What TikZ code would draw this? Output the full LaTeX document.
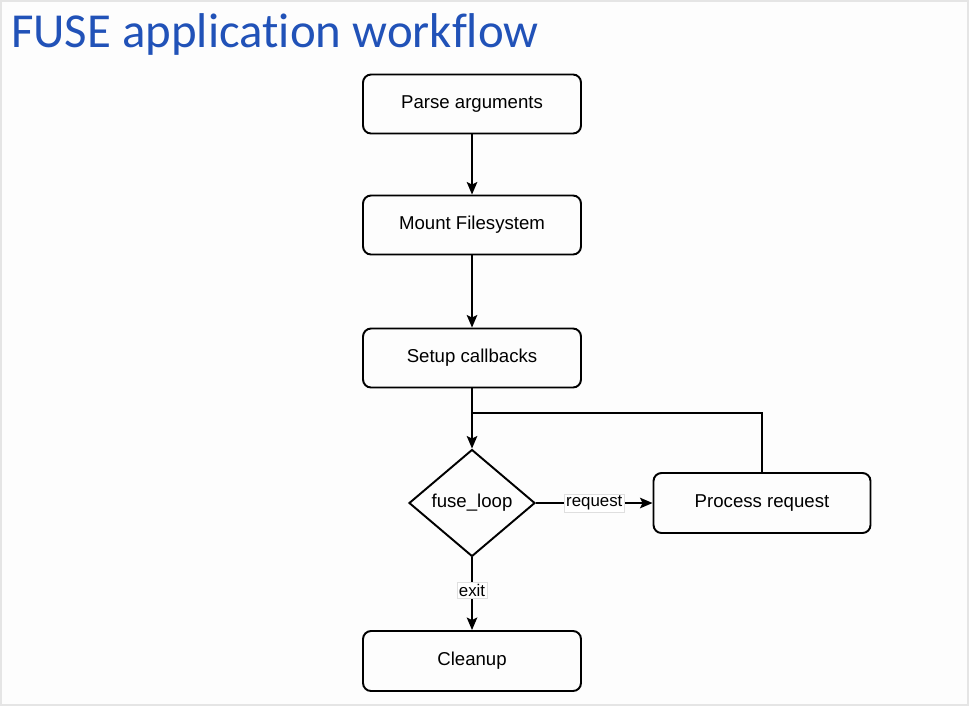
\documentclass[tikz,border=0pt]{standalone}
\usepackage{fontspec}
\setmainfont{Liberation Sans}
\newfontfamily\titlefont[Ligatures=NoCommon]{Carlito}
\usetikzlibrary{arrows.meta}
\usetikzlibrary{shapes.geometric}
\definecolor{titleblue}{HTML}{2152B8}
\definecolor{pagebg}{HTML}{FDFDFD}
\tikzset{stepbox/.style = {draw, rounded corners = 0.16cm, line width = 1.1pt,
                           minimum width = 4.36cm, minimum height = 1.18cm,
                           font = \fontsize{10.6}{12}\selectfont}}
\tikzset{choice/.style = {draw, diamond, aspect = 1.18, inner sep = 0, line width = 1.1pt,
                          minimum width = 2.52cm, minimum height = 2.14cm,
                          font = \fontsize{10.6}{12}\selectfont}}
\tikzset{edgelabel/.style = {fill = white, draw = gray!25, line width = 0.4pt, inner sep = 1pt,
                             font = \fontsize{9.6}{11}\selectfont}}
\tikzset{flow/.style = {line width = 1.1pt,
                        -{Stealth[length = 0.25cm, width = 0.21cm, inset = 0.05cm]}}}

\begin{document}
\begin{tikzpicture}[x = 0.02cm, y = -0.02cm]
    \useasboundingbox (0, 0) rectangle (970, 707);
    \draw [fill = pagebg, draw = gray!20, line width = 1.5pt] (1, 1) rectangle (968, 705);

    \node [anchor = west, text = titleblue, font = \titlefont\fontsize{27.8}{31}\selectfont] (title) at (5, 34) {FUSE application workflow};

    \node [stepbox] (parse) at (472, 104) {Parse arguments};
    \node [stepbox] (mount) at (472, 225) {Mount Filesystem};
    \node [stepbox] (setup) at (472, 358) {Setup callbacks};
    \node [choice] (loop) at (472, 503) {fuse\_loop};
    \node [stepbox, minimum width = 4.34cm, minimum height = 1.2cm] (process) at (762, 503) {Process request};
    \node [stepbox, minimum height = 1.2cm] (cleanup) at (472, 661) {Cleanup};
    \coordinate (merge) at (472, 413);

    \draw [flow] (parse) -- (mount);
    \draw [flow] (mount) -- (setup);
    \draw [flow] (setup) -- (loop);
    \draw [flow] (loop) -- node [edgelabel] {request} (process);
    \draw [line width = 1.1pt] (process.north) |- (merge);
    \draw [flow] (loop) -- node [edgelabel, pos = 0.45] {exit} (cleanup);
\end{tikzpicture}
\end{document}
